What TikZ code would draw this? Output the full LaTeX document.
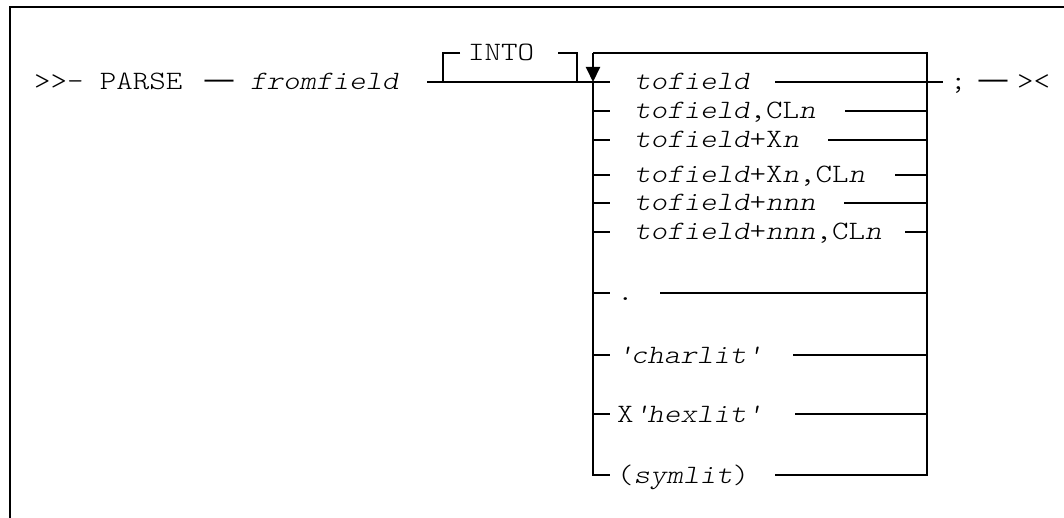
\documentclass[tikz,border=0pt]{standalone}
\usepackage{fontspec}
\newfontfamily\courier{lmmonolt10-regular.otf}[ItalicFont=lmmonolt10-oblique.otf, FakeStretch=1.186]
\newfontfamily\dashfont{Liberation Sans}
\usetikzlibrary{arrows.meta}
\tikzset{
  lbl/.style={inner sep=0pt, outer sep=0pt, anchor=base west, font=\fontsize{26.5}{32}\selectfont\courier},
  dsh/.style={inner sep=0pt, outer sep=0pt, anchor=base west, font=\fontsize{29}{33}\selectfont\dashfont},
  rail/.style={line width=2pt, line cap=butt},
  frameline/.style={line width=2.4pt},
}
\begin{document}
\begin{tikzpicture}[x=1pt,y=-1pt]
\useasboundingbox (0,0) rectangle (1064,518);
% outer frame
\draw[frameline] (9.7,522) -- (9.7,7) -- (1068,7);

% main row texts
\node[lbl] (parse) at (34,90) {>{}>- PARSE};
\node[dsh] (d1) at (204.5,89) {—};
\node[lbl] (from) at (250,90) {\itshape fromfield};
\node[lbl] (into) at (468,61) {INTO};

% rail coordinates
\coordinate (m0) at (427,82);
\coordinate (bL) at (443,82);
\coordinate (bR) at (577,82);
\coordinate (b1) at (460,53);
\coordinate (b2) at (558,53);
\coordinate (lt) at (593,53);
\coordinate (lp) at (593,82);
\coordinate (lb) at (593,475);
\coordinate (rt) at (927,53);
\coordinate (rb) at (927,475);
\coordinate (out) at (943,82);

% main line and INTO bracket
\draw[rail] (m0) -- (610,82);
\draw[rail] (b1) -| (bL);
\draw[rail] (b2) -| (bR);

% loop
\draw[rail, -{Triangle[width=14pt,length=15pt]}] (lt) -- (lp);
\draw[rail] (lp) -- (lb) -- (610,475);
\draw[rail] (lt) -- (rt) -- (rb) -- (775,475);

% rows
\node[lbl] (r1) at (634,90) {\itshape tofield};
\node[lbl] (r2) at (634,119) {\textit{tofield},CL\textit{n}};
\node[lbl] (r3) at (634,148) {\textit{tofield}+X\textit{n}};
\node[lbl] (r4) at (634,183) {\textit{tofield}+X\textit{n},CL\textit{n}};
\node[lbl] (r5) at (634,211) {\textit{tofield}+\textit{nnn}};
\node[lbl] (r6) at (634,240) {\textit{tofield}+\textit{nnn},CL\textit{n}};
\node[lbl] (r7) at (617,301) {.};
\node[lbl] (r8) at (617,363) {\itshape \textquotesingle charlit\textquotesingle};
\node[lbl] (r9) at (617,422) {X\textit{\textquotesingle hexlit\textquotesingle}};
\node[lbl] (r10) at (617,483) {(\textit{symlit})};

\coordinate (e1) at (775,82);
\coordinate (e2) at (845,111);
\coordinate (e3) at (828,140);
\coordinate (e4) at (895,175);
\coordinate (e5) at (844,203);
\coordinate (e6) at (905,232);
\coordinate (e7) at (660,293);
\coordinate (e8) at (793,355);
\coordinate (e9) at (795,414);

\draw[rail] (e1) -- (out);
\foreach \k/\yy in {2/111,3/140,4/175,5/203,6/232,7/293,8/355,9/414}{
  \draw[rail] (593,\yy) -- (610,\yy);
  \draw[rail] (e\k) -- (927,\yy);
}

% exit
\node[lbl] (semi) at (950,90) {;};
\node[dsh] (d2) at (978.5,89) {—};
\node[lbl] (stop) at (1017,90) {><};
\end{tikzpicture}
\end{document}
